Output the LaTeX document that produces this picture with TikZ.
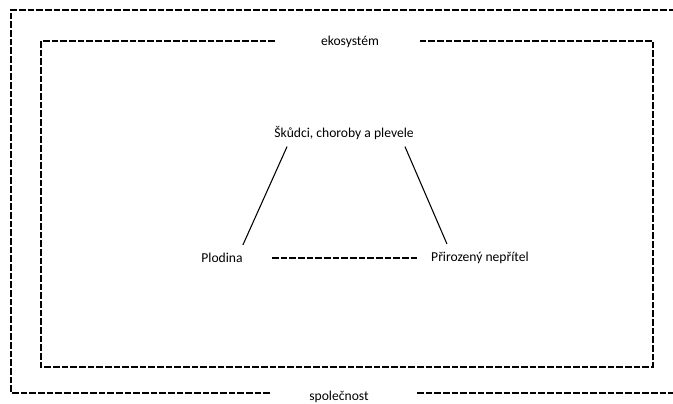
\documentclass[tikz,border=0pt]{standalone}
\usepackage{fontspec}
\setmainfont{Carlito}
\usetikzlibrary{positioning}

\tikzset{
  frame/.style={line width=0.8pt,dash pattern=on 5pt off 1.5pt},
  link/.style={line width=0.8pt},
  label/.style={inner sep=0pt,font=\fontsize{10.2}{12}\selectfont}
}

\begin{document}
\begin{tikzpicture}[x=0.75pt,y=-0.75pt]

\useasboundingbox (0,0) rectangle (673,403);
\clip (0,0) rectangle (673,403);

% texts
\node[label] (eko) at (350,42) {ekosystém};
\node[label] (spol) at (339,397) {společnost};
\node[label] (skud) at (344,133) {Škůdci, choroby a plevele};
\node[label] (plod) at (222,258) {Plodina};
\node[label] (nep) at (480,258) {Přirozený nepřítel};

% inner frame
\draw[frame] (275,41) -- (41,41) -- (41,367) -- (653,367) -- (653,41) -- (420,41);
% outer frame
\draw[frame] (270,393) -- (11,393) -- (11,10) -- (680,10);
\draw[frame] (417,393) -- (680,393);

% triangle
\draw[link] ([xshift=13pt*0.75,yshift=-5pt]skud.south west) -- ([yshift=6pt]plod.north east);
\draw[link] ([xshift=-9pt*0.75,yshift=-5pt]skud.south east) -- ([xshift=16pt*0.75,yshift=6pt]nep.north west);
\draw[frame] ([xshift=29pt*0.75]plod.east) -- ([xshift=-14pt*0.75]nep.west);

\end{tikzpicture}
\end{document}
